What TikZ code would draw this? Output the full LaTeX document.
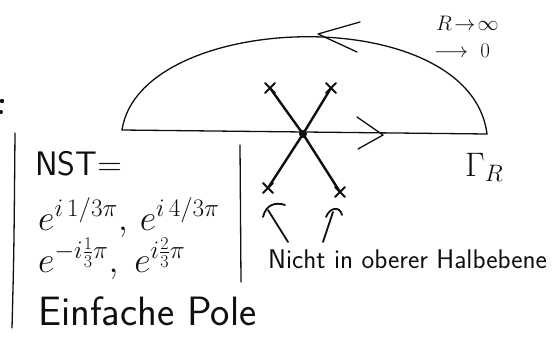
\RequirePackage{fix-cm}
\documentclass[tikz,border=0pt]{standalone}
\usetikzlibrary{positioning, calc}
\definecolor{cInk}{RGB}{15,15,15}

\begin{document}
\begin{tikzpicture}[
    x=1pt, y=-1pt,
    ink/.style={draw=cInk, line cap=round, line join=round},
    thinline/.style={ink, line width=1.3pt},
    thickline/.style={ink, line width=2.4pt},
    handline/.style={ink, line width=1.8pt},
    hand/.style={text=cInk, inner sep=0pt, anchor=base west},
    bigtext/.style={hand, font=\sffamily\fontsize{34}{38}\selectfont},
    mathtext/.style={hand, font=\fontsize{36}{40}\selectfont},
    midtext/.style={hand, font=\sffamily\fontsize{27}{31}\selectfont},
    smalltext/.style={hand, font=\sffamily\fontsize{21}{25}\selectfont}
]
    \useasboundingbox (0,0) rectangle (553,340);

    % --- Makro fuer eine Polstelle (Kreuz) ---
    \newcommand{\poleMark}[1]{
        \draw[handline] ($(#1)+(-5,-5)$) -- ($(#1)+(5,5)$)
                        ($(#1)+(-5,5)$) -- ($(#1)+(5,-5)$);
    }

    % --- Kontur: reelle Achse + Halbkreis ---
    \coordinate (axisL) at (122,130);
    \coordinate (axisR) at (487,134);
    \draw[thinline] (axisL) -- (axisR);
    \draw[thinline] (axisL) .. controls (140,10) and (470,0) .. (axisR);

    % Pfeilspitzen (handgezeichnet)
    \draw[thinline] (360,22) -- (318,34) -- (357,52);
    \draw[thinline] (357,117) -- (383,135) -- (358,149);

    % --- Nullstellen ---
    \node (c) at (303,134) [circle, fill=cInk, inner sep=0pt, minimum size=8pt] {};
    \coordinate (p1) at (270,88);
    \coordinate (p2) at (331,88);
    \coordinate (p3) at (268,188);
    \coordinate (p4) at (340,192);
    \foreach \p in {p1,p2,p3,p4} {
        \draw[thickline] (c.center) -- (\p);
        \poleMark{\p}
    }

    % Pfeile auf die unteren Pole
    \draw[handline] (288,242) -- (268,210);
    \draw[handline] (263,217) .. controls (266,204) and (276,202) .. (285,205);
    \draw[handline] (323,242) -- (333,212);
    \draw[handline] (326,217) .. controls (330,207) and (340,206) .. (342,215);

    % --- Trennlinien ---
    \draw[thinline] (15,133) .. controls (14,250) .. (12,328);
    \draw[thinline] (240,145) -- (241,282);
    \fill[cInk] (2,101) circle (2.2) (1,112) circle (2);

    % --- Beschriftung ---
    \node (nst) at (35,175) [bigtext] {NST$=$};
    \node (z1) at (38,230) [mathtext] {$e^{i\,1/3\pi},\, e^{i\,4/3\pi}$};
    \node (z2) at (38,272) [mathtext] {$e^{-i\frac{1}{3}\pi},\; e^{i\frac{2}{3}\pi}$};
    \node (ep) at (38,325) [bigtext, font=\sffamily\fontsize{41}{45}\selectfont] {Einfache Pole};
    \node (nh) at (268,268) [midtext] {Nicht in oberer Halbebene};
    \node (gr) at (465,176) [bigtext] {$\Gamma_R$};
    \node (rinf) at (436,30) [smalltext] {$R\!\to\!\infty$};
    \node (r0) at (434,57) [smalltext] {$\longrightarrow\ 0$};

\end{tikzpicture}
\end{document}
